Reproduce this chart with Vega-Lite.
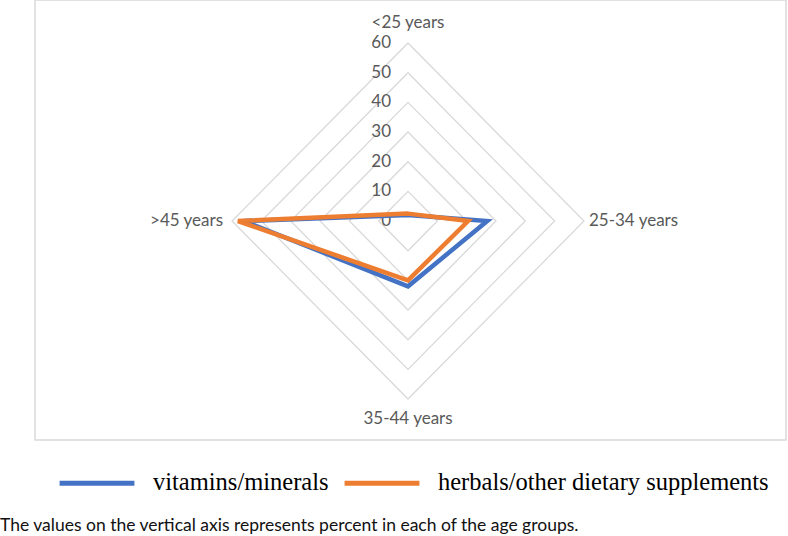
{
  "$schema": "https://vega.github.io/schema/vega-lite/v6.json",
  "width": 751,
  "height": 440,
  "padding": {"left": 35, "top": 0, "right": 2, "bottom": 96},
  "autosize": {"type": "none"},
  "background": "white",
  "config": {"view": {"stroke": "#d9d9d9", "strokeWidth": 1.5}, "font": "Lato"},
  "title": {
    "text": "The values on the vertical axis represents percent in each of the age groups.",
    "orient": "bottom",
    "anchor": "start",
    "dx": -35,
    "offset": 22,
    "font": "Lato",
    "fontSize": 17.5,
    "fontWeight": "normal",
    "color": "#111111"
  },
  "datasets": {
    "series": [
      {"series": "vitamins/minerals", "age": "<25 years", "value": 2},
      {"series": "vitamins/minerals", "age": "25-34 years", "value": 27},
      {"series": "vitamins/minerals", "age": "35-44 years", "value": 22},
      {"series": "vitamins/minerals", "age": ">45 years", "value": 56},
      {"series": "herbals/other dietary supplements", "age": "<25 years", "value": 2.5},
      {"series": "herbals/other dietary supplements", "age": "25-34 years", "value": 20.5},
      {"series": "herbals/other dietary supplements", "age": "35-44 years", "value": 20},
      {"series": "herbals/other dietary supplements", "age": ">45 years", "value": 58}
    ],
    "grid": [
      {"level": 10, "age": ["<25 years", "25-34 years", "35-44 years", ">45 years"]},
      {"level": 20, "age": ["<25 years", "25-34 years", "35-44 years", ">45 years"]},
      {"level": 30, "age": ["<25 years", "25-34 years", "35-44 years", ">45 years"]},
      {"level": 40, "age": ["<25 years", "25-34 years", "35-44 years", ">45 years"]},
      {"level": 50, "age": ["<25 years", "25-34 years", "35-44 years", ">45 years"]},
      {"level": 60, "age": ["<25 years", "25-34 years", "35-44 years", ">45 years"]}
    ],
    "ticks": [
      {"level": 0}, {"level": 10}, {"level": 20}, {"level": 30}, {"level": 40}, {"level": 50}, {"level": 60}
    ],
    "cats": [
      {"age": "<25 years"}, {"age": "25-34 years"}, {"age": "35-44 years"}, {"age": ">45 years"}
    ]
  },
  "encoding": {
    "x": {"field": "x", "type": "quantitative", "scale": {"domain": [-127.2, 128.9], "nice": false, "zero": false}, "axis": null},
    "y": {"field": "y", "type": "quantitative", "scale": {"domain": [-73.8, 74.5], "nice": false, "zero": false}, "axis": null}
  },
  "layer": [
    {
      "data": {"name": "grid"},
      "transform": [
        {"flatten": ["age"]},
        {"calculate": "indexof(['<25 years','25-34 years','35-44 years','>45 years'], datum.age)", "as": "idx"},
        {"calculate": "datum.level * sin(datum.idx * PI / 2)", "as": "x"},
        {"calculate": "datum.level * cos(datum.idx * PI / 2)", "as": "y"}
      ],
      "mark": {"type": "line", "interpolate": "linear-closed", "stroke": "#d9d9d9", "strokeWidth": 1.3},
      "encoding": {"detail": {"field": "level"}, "order": {"field": "idx"}}
    },
    {
      "data": {"name": "ticks"},
      "transform": [
        {"calculate": "0", "as": "x"},
        {"calculate": "datum.level", "as": "y"}
      ],
      "mark": {"type": "text", "align": "right", "baseline": "middle", "dx": -17, "fontSize": 17, "color": "#595959"},
      "encoding": {"text": {"field": "level"}}
    },
    {
      "data": {"name": "cats"},
      "transform": [
        {"filter": "datum.age == '<25 years'"},
        {"calculate": "0", "as": "x"},
        {"calculate": "60", "as": "y"}
      ],
      "mark": {"type": "text", "align": "center", "baseline": "middle", "dy": -20, "fontSize": 17, "color": "#595959"},
      "encoding": {"text": {"field": "age"}}
    },
    {
      "data": {"name": "cats"},
      "transform": [
        {"filter": "datum.age == '35-44 years'"},
        {"calculate": "0", "as": "x"},
        {"calculate": "-60", "as": "y"}
      ],
      "mark": {"type": "text", "align": "center", "baseline": "middle", "dy": 20, "fontSize": 17, "color": "#595959"},
      "encoding": {"text": {"field": "age"}}
    },
    {
      "data": {"name": "cats"},
      "transform": [
        {"filter": "datum.age == '25-34 years'"},
        {"calculate": "60", "as": "x"},
        {"calculate": "0", "as": "y"}
      ],
      "mark": {"type": "text", "align": "left", "baseline": "middle", "dx": 5, "fontSize": 17, "color": "#595959"},
      "encoding": {"text": {"field": "age"}}
    },
    {
      "data": {"name": "cats"},
      "transform": [
        {"filter": "datum.age == '>45 years'"},
        {"calculate": "-60", "as": "x"},
        {"calculate": "0", "as": "y"}
      ],
      "mark": {"type": "text", "align": "right", "baseline": "middle", "dx": -9, "fontSize": 17, "color": "#595959"},
      "encoding": {"text": {"field": "age"}}
    },
    {
      "data": {"name": "series"},
      "transform": [
        {"calculate": "indexof(['<25 years','25-34 years','35-44 years','>45 years'], datum.age)", "as": "idx"},
        {"calculate": "datum.value * sin(datum.idx * PI / 2)", "as": "x"},
        {"calculate": "datum.value * cos(datum.idx * PI / 2)", "as": "y"}
      ],
      "mark": {"type": "line", "interpolate": "linear-closed", "strokeWidth": 4.5, "strokeJoin": "miter"},
      "encoding": {
        "order": {"field": "idx"},
        "color": {
          "field": "series",
          "type": "nominal",
          "scale": {"domain": ["vitamins/minerals", "herbals/other dietary supplements"], "range": ["#4472C4", "#ED7D31"]},
          "legend": {
            "orient": "none",
            "legendX": 22,
            "legendY": 443,
            "direction": "horizontal",
            "title": null,
            "symbolType": "stroke",
            "symbolSize": 5600,
            "symbolStrokeWidth": 5,
            "labelFont": "Liberation Serif",
            "labelFontSize": 24.5,
            "labelColor": "black",
            "labelOffset": 16,
            "columnPadding": 5,
            "labelLimit": 0
          }
        }
      }
    }
  ]
}
